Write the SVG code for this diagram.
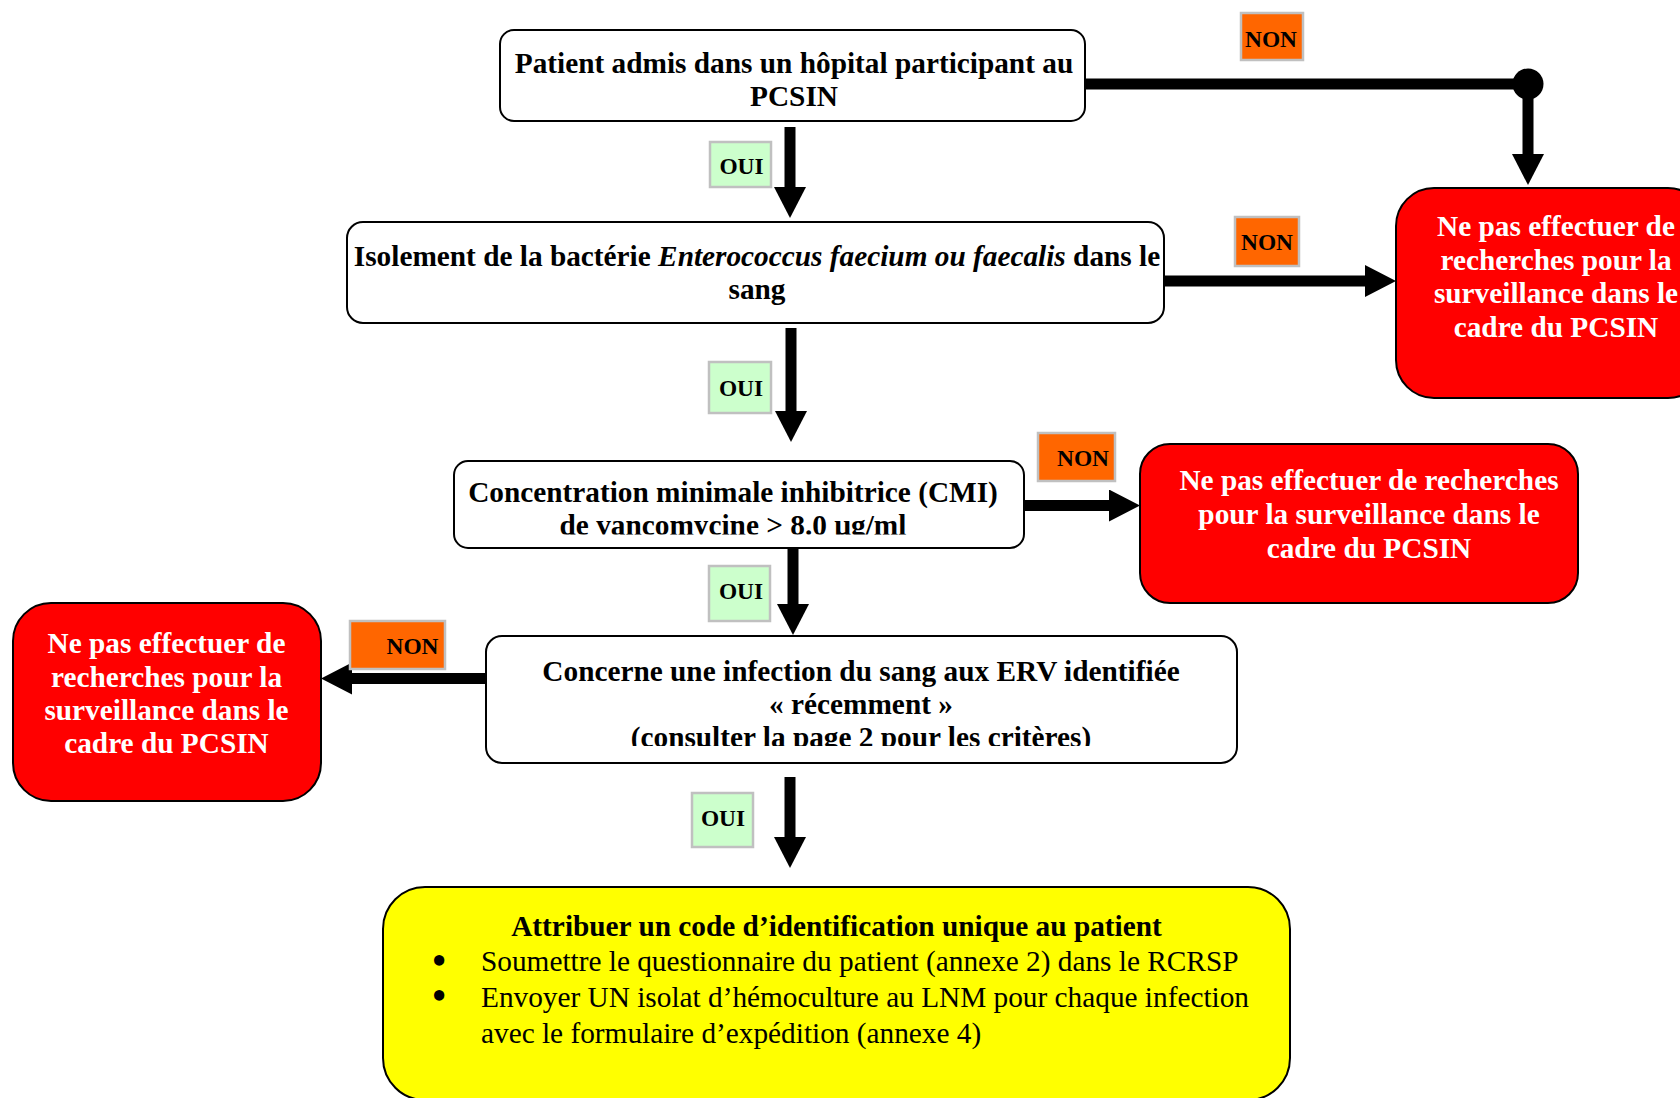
<svg xmlns="http://www.w3.org/2000/svg" width="1680" height="1098" viewBox="0 0 1680 1098">
<style>
text { font-family: "Liberation Serif", "Times New Roman", serif; }
.box { fill: #ffffff; stroke: #000000; stroke-width: 2; }
.red { fill: #ff0000; stroke: #000000; stroke-width: 2; }
.yel { fill: #ffff00; stroke: #000000; stroke-width: 2; }
.non { fill: #ff6600; stroke: #c0c0c0; stroke-width: 2.5; }
.oui { fill: #ccffcc; stroke: #c0c0c0; stroke-width: 2.5; }
.t { font-size: 29.3px; font-weight: bold; fill: #000000; text-anchor: middle; }
.w { fill: #ffffff; }
.r { font-size: 29.3px; font-weight: normal; fill: #000000; }
text.bul { font-family: "DejaVu Sans", sans-serif; font-size: 29.3px; font-weight: bold; fill: #000000; text-anchor: middle; }
.lbl { font-size: 23.4px; font-weight: bold; fill: #000000; text-anchor: middle; }
.conn { stroke: #000000; stroke-width: 11; fill: none; }
</style>
<defs>
<marker id="arrow" markerUnits="userSpaceOnUse" viewBox="0 0 31 32" refX="0" refY="16" markerWidth="31" markerHeight="32" orient="auto">
<path d="M0,0 L31,16 L0,32 Z" fill="#000000"/>
</marker>
<clipPath id="clip3"><rect x="454" y="461" width="570" height="73.5"/></clipPath>
<clipPath id="clip4"><rect x="486" y="636" width="751" height="110"/></clipPath>
</defs>

<g id="connectors">
<path class="conn" d="M1085,84 H1528 V154" marker-end="url(#arrow)"/>
<circle cx="1528" cy="84" r="15.5" fill="#000000"/>
<path class="conn" d="M790,127 V187" marker-end="url(#arrow)"/>
<path class="conn" d="M1164,281 H1365" marker-end="url(#arrow)"/>
<path class="conn" d="M791,328 V411" marker-end="url(#arrow)"/>
<path class="conn" d="M1024,505.5 H1109" marker-end="url(#arrow)"/>
<path class="conn" d="M793,544 V604" marker-end="url(#arrow)"/>
<path class="conn" d="M486,678.5 H352" marker-end="url(#arrow)"/>
<path class="conn" d="M790,777 V837" marker-end="url(#arrow)"/>
</g>

<g id="node-patient">
<rect class="box" x="500" y="30" width="585" height="91" rx="14"/>
<text class="t" x="794" y="73">Patient admis dans un hôpital participant au</text>
<text class="t" x="794" y="106">PCSIN</text>
</g>

<g id="node-isolement">
<rect class="box" x="347" y="222" width="817" height="101" rx="16"/>
<text class="t" x="757" y="266">Isolement de la bactérie <tspan font-style="italic">Enterococcus faecium ou faecalis</tspan> dans le</text>
<text class="t" x="757" y="299">sang</text>
</g>

<g id="node-cmi">
<rect class="box" x="454" y="461" width="570" height="87" rx="14"/>
<g clip-path="url(#clip3)">
<text class="t" x="733" y="502">Concentration minimale inhibitrice (CMI)</text>
<text class="t" x="733" y="535">de vancomycine &gt; 8.0 µg/ml</text>
</g>
</g>

<g id="node-erv">
<rect class="box" x="486" y="636" width="751" height="127" rx="16"/>
<g clip-path="url(#clip4)">
<text class="t" x="861" y="681">Concerne une infection du sang aux ERV identifiée</text>
<text class="t" x="861" y="714">« récemment »</text>
<text class="t" x="861" y="747">(consulter la page 2 pour les critères)</text>
</g>
</g>

<g id="node-stop1">
<rect class="red" x="1396" y="188" width="310" height="210" rx="38"/>
<text class="t w" x="1556" y="236">Ne pas effectuer de</text>
<text class="t w" x="1556" y="269.5">recherches pour la</text>
<text class="t w" x="1556" y="303">surveillance dans le</text>
<text class="t w" x="1556" y="336.5">cadre du PCSIN</text>
</g>

<g id="node-stop2">
<rect class="red" x="1140" y="444" width="438" height="159" rx="30"/>
<text class="t w" x="1369" y="490">Ne pas effectuer de recherches</text>
<text class="t w" x="1369" y="524">pour la surveillance dans le</text>
<text class="t w" x="1369" y="558">cadre du PCSIN</text>
</g>

<g id="node-stop3">
<rect class="red" x="13" y="603" width="308" height="198" rx="38"/>
<text class="t w" x="166.5" y="653">Ne pas effectuer de</text>
<text class="t w" x="166.5" y="686.5">recherches pour la</text>
<text class="t w" x="166.5" y="720">surveillance dans le</text>
<text class="t w" x="166.5" y="753">cadre du PCSIN</text>
</g>

<g id="node-action">
<rect class="yel" x="383" y="887" width="907" height="213" rx="42"/>
<text class="t" x="836.5" y="936">Attribuer un code d’identification unique au patient</text>
<text class="bul"><tspan x="439" y="972">•</tspan><tspan x="439" y="1007">•</tspan></text>
<text class="r" x="481" y="971">Soumettre le questionnaire du patient (annexe 2) dans le RCRSP</text>
<text class="r" x="481" y="1007">Envoyer UN isolat d’hémoculture au LNM pour chaque infection</text>
<text class="r" x="481" y="1042.5">avec le formulaire d’expédition (annexe 4)</text>
</g>

<g id="labels">
<g id="label-non1"><rect class="non" x="1241" y="13" width="62" height="47"/><text class="lbl" x="1271" y="47">NON</text></g>
<g id="label-non2"><rect class="non" x="1235" y="217" width="64" height="49"/><text class="lbl" x="1267" y="250">NON</text></g>
<g id="label-non3"><rect class="non" x="1038" y="433" width="77" height="48"/><text class="lbl" x="1083" y="466">NON</text></g>
<g id="label-non4"><rect class="non" x="350" y="621" width="95" height="48"/><text class="lbl" x="412.5" y="654">NON</text></g>
<g id="label-oui1"><rect class="oui" x="710" y="142" width="61" height="45"/><text class="lbl" x="741.5" y="174">OUI</text></g>
<g id="label-oui2"><rect class="oui" x="709" y="362" width="62" height="51"/><text class="lbl" x="741" y="396">OUI</text></g>
<g id="label-oui3"><rect class="oui" x="709" y="566" width="61" height="55"/><text class="lbl" x="741" y="599">OUI</text></g>
<g id="label-oui4"><rect class="oui" x="692" y="793" width="61" height="54"/><text class="lbl" x="723" y="826">OUI</text></g>
</g>
</svg>
